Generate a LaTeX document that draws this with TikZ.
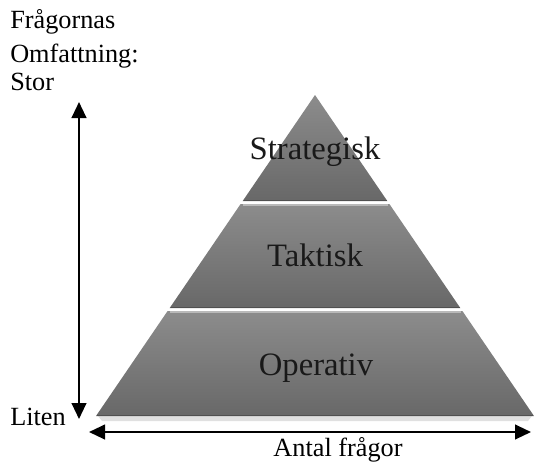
\documentclass[tikz,border=0pt]{standalone}
\usepackage{fontspec}
\setmainfont{Liberation Serif}
\usetikzlibrary{arrows.meta}
\definecolor{bandtop}{RGB}{140,140,140}
\definecolor{bandbot}{RGB}{104,104,104}
\definecolor{hilite}{RGB}{185,185,185}
\definecolor{edgedark}{RGB}{80,80,80}
\tikzset{
  band/.style={top color=bandtop, bottom color=bandbot, draw=none},
  hl/.style={draw=hilite, line width=1.8pt},
  dk/.style={draw=edgedark, line width=1pt},
  lbl/.style={inner sep=0pt, font=\fontsize{19.7}{21}\selectfont, anchor=base west},
  plbl/.style={inner sep=0pt, font=\fontsize{24.5}{26}\selectfont, anchor=base, text=black!90},
  arr/.style={line width=1.6pt, {Triangle[length=12pt,width=11pt]}-{Triangle[length=12pt,width=11pt]}}
}
\begin{document}
\begin{tikzpicture}[x=0.75pt,y=-0.75pt]
\useasboundingbox (0,0) rectangle (534,461);
% faint shadow below base
\fill[black!12] (98,416) -- (532,416) -- (528,421) -- (102,421) -- cycle;
% bands
\path[band] (315,95) -- (387.3,201) -- (242.7,201) -- cycle;
\path[band] (240.6,204) -- (389.4,204) -- (460.3,308) -- (169.7,308) -- cycle;
\path[band] (167.6,311) -- (462.4,311) -- (534,416) -- (96,416) -- cycle;
% bevel highlights and dark bottoms
\draw[dk] (243.5,200.5) -- (386.5,200.5);
\draw[hl] (242.5,205.2) -- (387.5,205.2);
\draw[dk] (170.5,307.5) -- (459.5,307.5);
\draw[hl] (169.5,312.2) -- (460.5,312.2);
\draw[dk] (97,415.5) -- (533,415.5);
% labels in pyramid
\node[plbl] (strat) at (315,159) {Strategisk};
\node[plbl] (takt) at (315,266) {Taktisk};
\node[plbl] (oper) at (316,375) {Operativ};
% left labels
\node[lbl] (l1) at (10,28) {Frågornas};
\node[lbl] (l2) at (10,62) {Omfattning:};
\node[lbl] (l3) at (10,90) {Stor};
\node[lbl] (liten) at (10,425) {Liten};
\node[lbl, anchor=base] (antal) at (338,456) {Antal frågor};
% arrows
\coordinate (vtop) at (79,102);
\coordinate (vbot) at (79,419);
\coordinate (hl) at (89,432);
\coordinate (hr) at (531,432);
\draw[arr] (vbot) -- (vtop);
\draw[arr] (hl) -- (hr);
\end{tikzpicture}
\end{document}
